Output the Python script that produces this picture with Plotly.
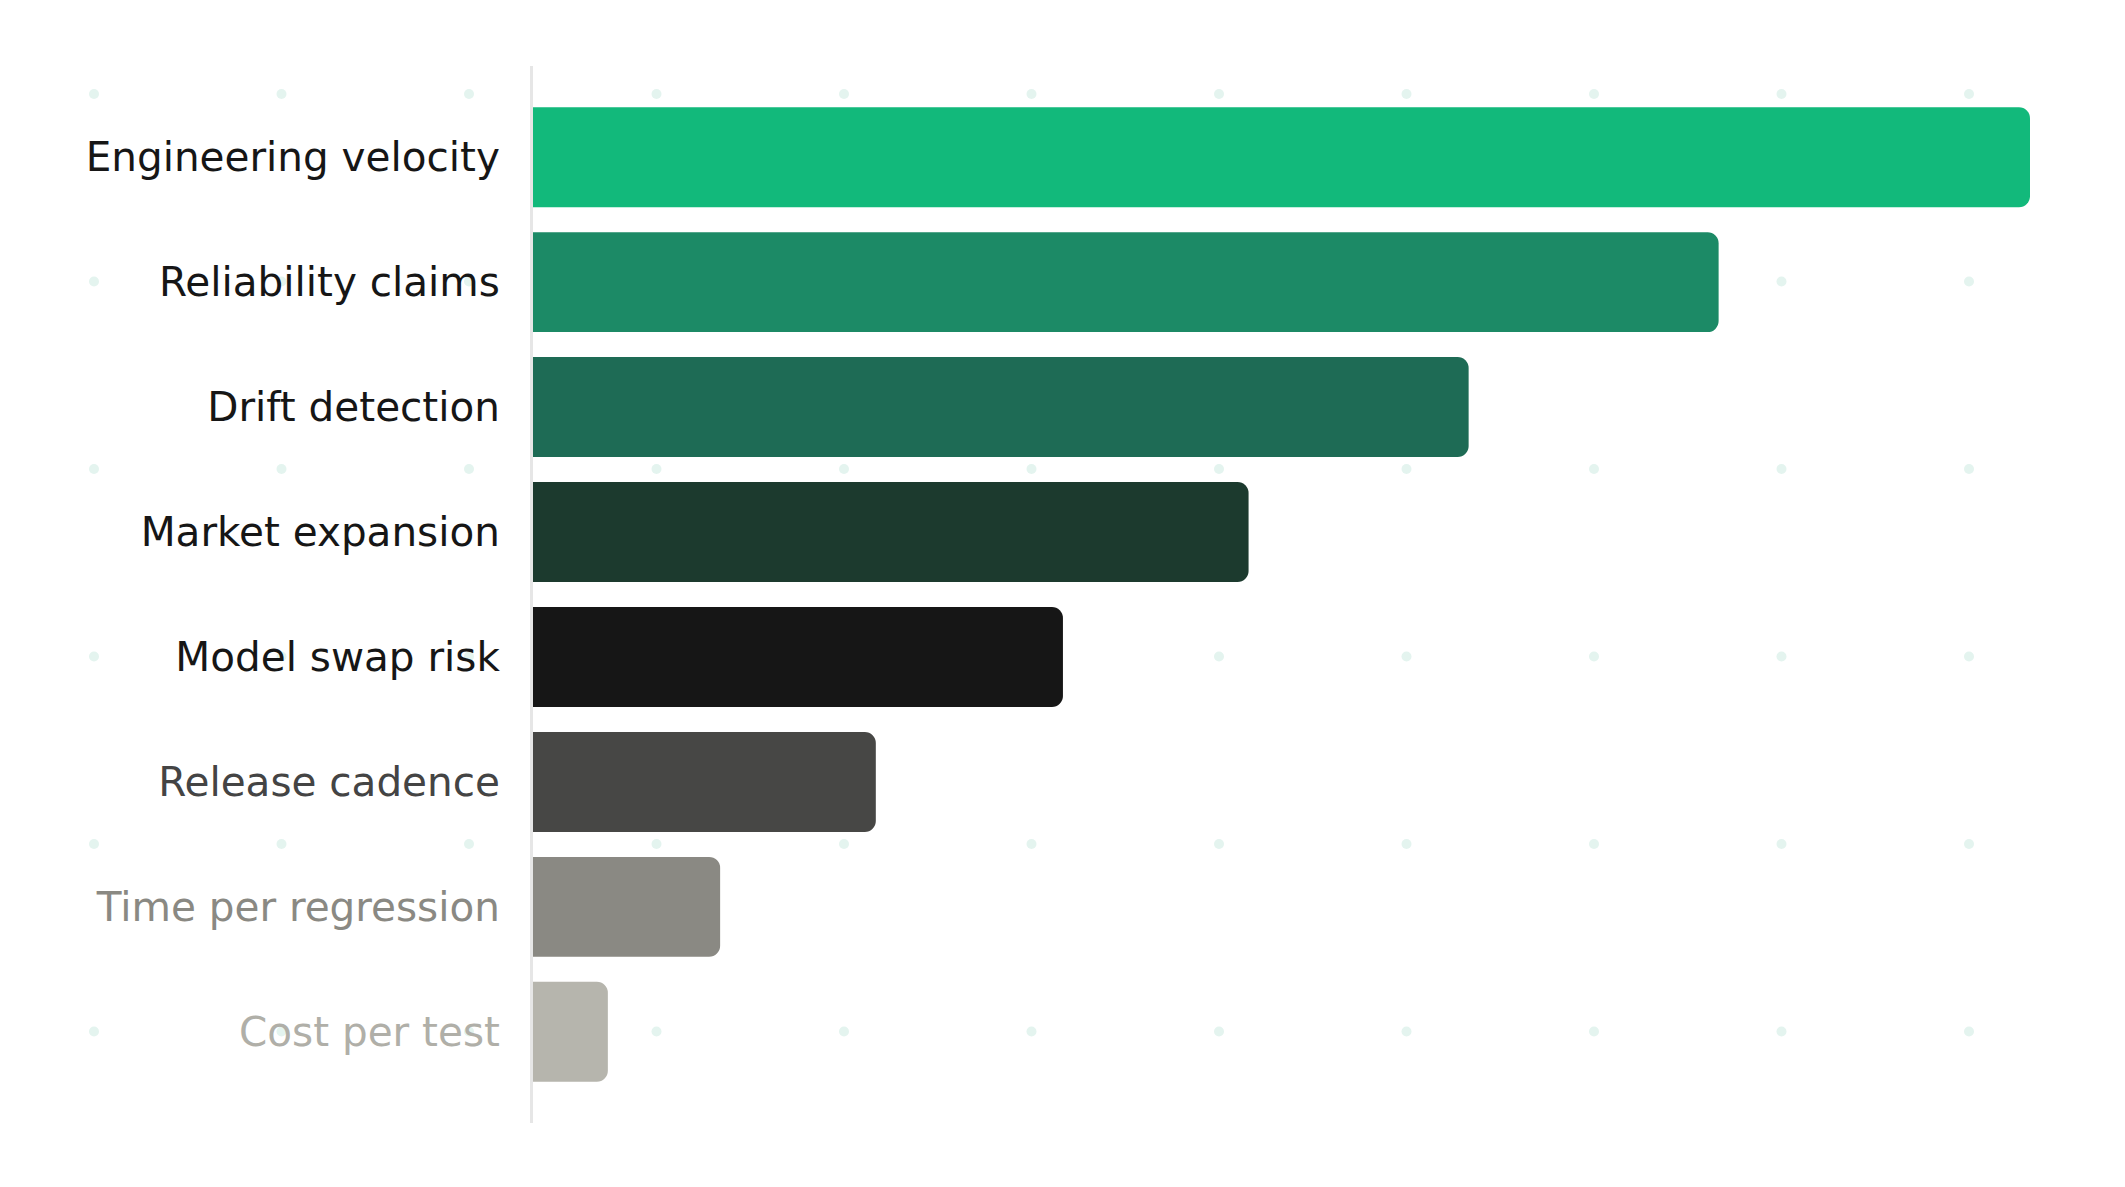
import plotly.graph_objects as go

categories = ["Engineering velocity", "Reliability claims", "Drift detection",
              "Market expansion", "Model swap risk", "Release cadence",
              "Time per regression", "Cost per test"]
values = [100, 79.2, 62.5, 47.8, 35.4, 22.9, 12.5, 5.0]
bar_colors = ["#12b97b", "#1c8a66", "#1e6b55", "#1c3a2e",
              "#161616", "#474745", "#8a8983", "#b6b5ad"]
label_colors = ["#161616", "#161616", "#161616", "#161616",
                "#161616", "#444444", "#8a8983", "#b0afa8"]

W, H = 2125, 1187
# page body adds an 8px offset, so margins are shifted to compensate
ml, mr, mt, mb = 525, 103, 58, 72

fig = go.Figure()
fig.add_trace(go.Bar(
    x=values, y=categories, orientation="h",
    marker=dict(color=bar_colors, line=dict(width=0)),
    width=0.8, hoverinfo="x+y",
))

# dotted background pattern (decoration, in pixel space)
pw, ph = W - ml - mr, H - mt - mb
dots = []
for i in range(11):
    for j in range(6):
        cx, cy = 86 + 187.5 * i, 86 + 187.5 * j
        x0 = (cx - 5 - ml) / pw
        x1 = (cx + 5 - ml) / pw
        y0 = (H - mb - cy - 5) / ph
        y1 = (H - mb - cy + 5) / ph
        dots.append(dict(type="circle", xref="paper", yref="paper",
                         x0=x0, x1=x1, y0=y0, y1=y1, layer="below",
                         fillcolor="#e4f4ef", line=dict(width=0)))

fig.update_layout(
    width=W, height=H,
    margin=dict(l=ml, r=mr, t=mt, b=mb),
    paper_bgcolor="white", plot_bgcolor="rgba(0,0,0,0)",
    barcornerradius=11,
    showlegend=False,
    shapes=dots,
    font=dict(family="DejaVu Sans", size=40.5, color="#161616"),
)
fig.update_xaxes(range=[0, 100], visible=False, showgrid=False, zeroline=False)
fig.update_yaxes(
    range=[7.73, -0.73],
    tickmode="array", tickvals=categories,
    ticktext=[f'<span style="color:{c}">{t}</span>' for t, c in zip(categories, label_colors)],
    showline=True, linecolor="#e6e6e6", linewidth=3,
    showgrid=False, zeroline=False, ticks="", ticklabelstandoff=22,
)

fig.write_html("out.html")
